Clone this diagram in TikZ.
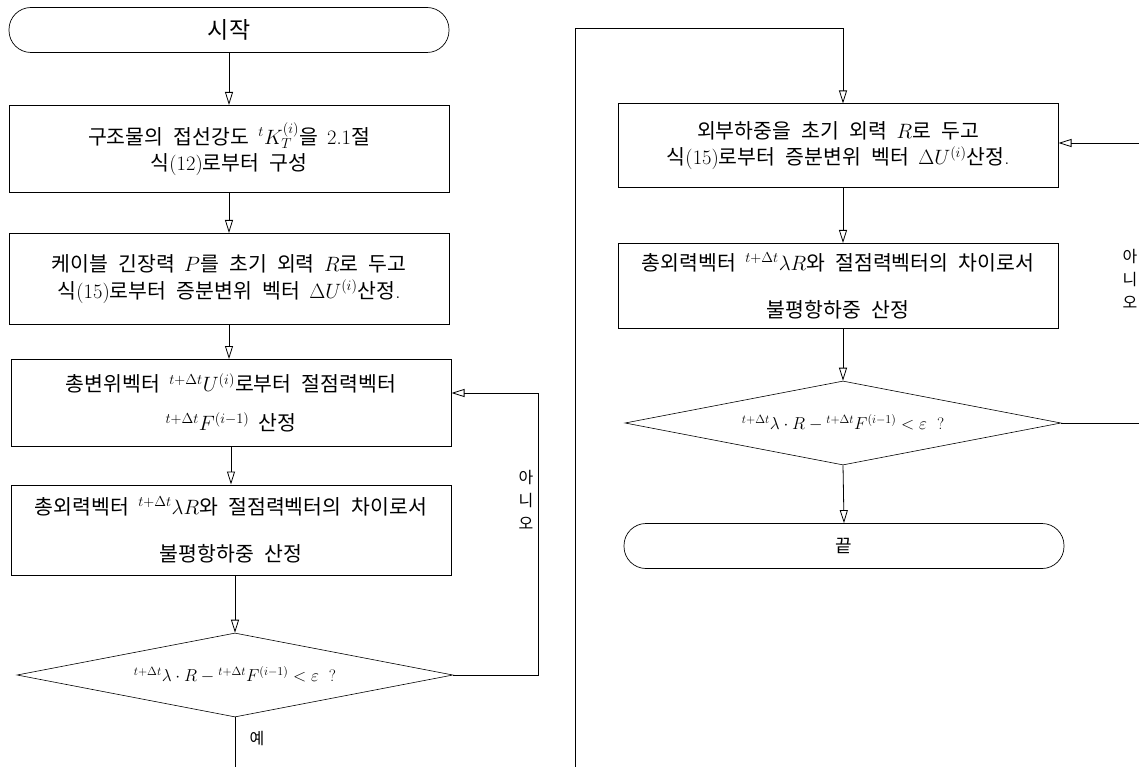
\documentclass[tikz,border=0pt]{standalone}
\usepackage{fontspec}
\usetikzlibrary{shapes.geometric,arrows.meta}
\newfontfamily\kr{Noto Sans CJK KR}
\newcommand\kt[1]{{\kr\spaceskip=0.5em\relax #1}}
\newcommand\gp{\hspace{0.45em}}
\begin{document}
\begin{tikzpicture}[x=1pt,y=-1pt,
  boxst/.style={draw, line width=1pt, minimum width=440pt, inner sep=0pt, align=center,
    font=\fontsize{20.5}{25}\selectfont},
  termst/.style={draw, line width=0.7pt, rounded corners=22pt, minimum width=440pt,
    minimum height=45pt, inner sep=0pt},
  diast/.style={draw, diamond, line width=0.6pt, minimum width=436pt, minimum height=84pt,
    inner sep=0pt, shape aspect=5, font=\fontsize{16.5}{19}\selectfont},
  arr/.style={-{Triangle[open,length=13pt,width=8pt]}, line width=0.8pt},
  ln/.style={line width=0.8pt},
  lbl/.style={font=\kr\fontsize{16}{23}\selectfont, align=center, inner sep=0pt}]
\useasboundingbox (0,0) rectangle (1139,767);
% left column
\node[termst, font=\kr\fontsize{23}{26}\selectfont] (start) at (229,30) {시작};
\node[boxst, minimum height=87pt] (b1) at (229,149)
  {\kt{구조물의 접선강도}\gp${}^{t}K_T^{(i)}$\kt{을}\gp2.1\kt{절}\\[1pt]
   \kt{식}(12)\kt{로부터 구성}};
\node[boxst, minimum height=91pt] (b2) at (229,279)
  {\kt{케이블 긴장력}\gp$P$\kt{를 초기 외력}\gp$R$\kt{로 두고}\\[2pt]
   \kt{식}(15)\kt{로부터 증분변위 벡터}\gp$\Delta U^{(i)}$\kt{산정}.};
\node[boxst, minimum height=87pt] (b3) at (231,403)
  {\kt{총변위벡터}\gp${}^{t+\Delta t}U^{(i)}$\kt{로부터 절점력벡터}\\[14pt]
   ${}^{t+\Delta t}F^{(i-1)}$\gp\kt{산정}};
\node[boxst, minimum height=90pt] (b4) at (231,530)
  {\kt{총외력벡터}\gp${}^{t+\Delta t}\lambda R$\kt{와 절점력벡터의 차이로서}\\[22pt]
   \kt{불평항하중 산정}};
\node[diast] (d1) at (235,675)
  {${}^{t+\Delta t}\lambda\cdot R-{}^{t+\Delta t}F^{(i-1)}<\varepsilon$\ \ ?};
\node[lbl] (yes1) at (257,738) {예};
\node[lbl] (no1) at (526,500) {아\\니\\오};
\coordinate (loopL) at (538,393);
\coordinate (botL) at (235,767);
% right column
\coordinate (botR) at (575,767);
\coordinate (topR) at (843,28);
\coordinate (rin) at (1139,143);
\coordinate (rout) at (1139,423);
\node[boxst, minimum height=84pt] (b5) at (838,146)
  {\kt{외부하중을 초기 외력}\gp$R$\kt{로 두고}\\[1pt]
   \kt{식}(15)\kt{로부터 증분변위 벡터}\gp$\Delta U^{(i)}$\kt{산정}.};
\node[boxst, minimum height=85pt] (b6) at (838,286)
  {\kt{총외력벡터}\gp${}^{t+\Delta t}\lambda R$\kt{와 절점력벡터의 차이로서}\\[22pt]
   \kt{불평항하중 산정}};
\node[diast] (d2) at (843,423)
  {${}^{t+\Delta t}\lambda\cdot R-{}^{t+\Delta t}F^{(i-1)}<\varepsilon$\ \ ?};
\node[termst, font=\kr\fontsize{18}{20}\selectfont] (end) at (844,546) {끝};
\node[lbl] (no2) at (1130,279) {아\\니\\오};
% connectors
\draw[arr] (start) -- (b1);
\draw[arr] (b1) -- (b2);
\draw[arr] (b2.south) -- (b2.south |- b3.north);
\draw[arr] (b3) -- (b4);
\draw[arr] (b4.south -| d1.north) -- (d1.north);
\draw[ln] (d1.south) -- (botL);
\draw[arr] (d1.east) -| (loopL) -- (loopL -| b3.east);
\draw[arr] (botR) |- (topR) -- (topR |- b5.north);
\draw[arr] (rin) -- (rin -| b5.east);
\draw[arr] (b5.south -| topR) -- (topR |- b6.north);
\draw[arr] (b6.south -| d2.north) -- (d2.north);
\draw[ln] (d2.east) -- (rout);
\draw[arr] (d2.south) -- (end.north);
\end{tikzpicture}
\end{document}
